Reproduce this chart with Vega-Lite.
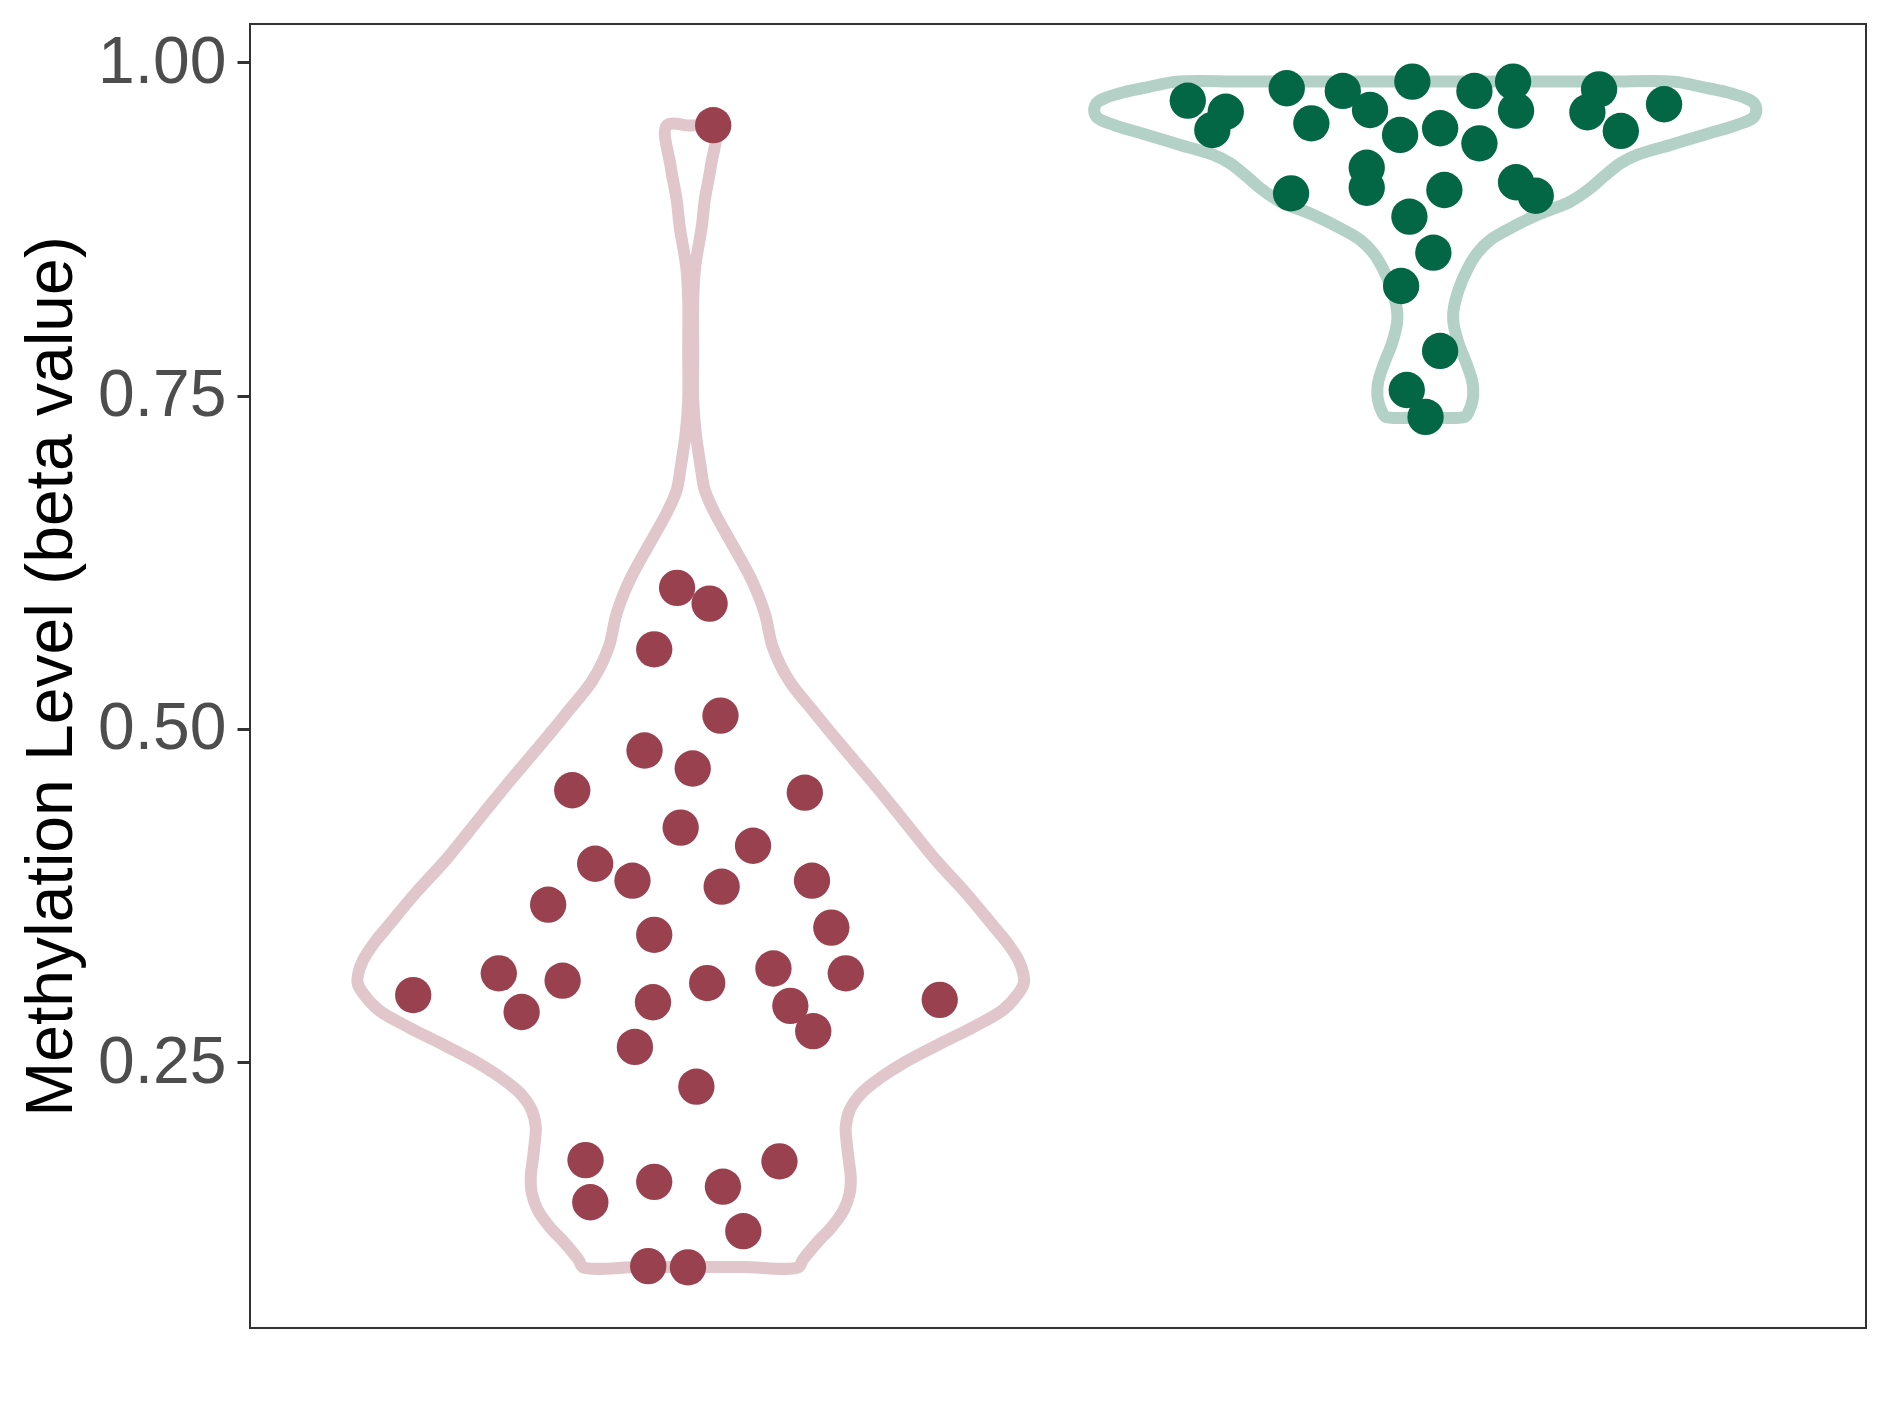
{
  "$schema": "https://vega.github.io/schema/vega-lite/v6.json",
  "width": 1616,
  "height": 1304,
  "autosize": {"type": "none"},
  "padding": {"left": 250, "top": 24, "right": 23, "bottom": 89},
  "background": "white",
  "config": {
    "font": "Liberation Sans",
    "view": {"stroke": "#333333", "strokeWidth": 2}
  },
  "datasets": {
    "violin": [
      {"g":"Red","o":0,"x":1.0,"y":0.0965},{"g":"Red","o":1,"x":0.93,"y":0.0965},{"g":"Red","o":2,"x":0.853,"y":0.0965},{"g":"Red","o":3,"x":0.8475,"y":0.1017},{"g":"Red","o":4,"x":0.8285,"y":0.1145},{"g":"Red","o":5,"x":0.808,"y":0.1265},{"g":"Red","o":6,"x":0.7917,"y":0.1392},{"g":"Red","o":7,"x":0.7835,"y":0.152},{"g":"Red","o":8,"x":0.7822,"y":0.164},{"g":"Red","o":9,"x":0.7849,"y":0.1767},{"g":"Red","o":10,"x":0.7876,"y":0.1895},{"g":"Red","o":11,"x":0.789,"y":0.2015},{"g":"Red","o":12,"x":0.7835,"y":0.2142},{"g":"Red","o":13,"x":0.7672,"y":0.227},{"g":"Red","o":14,"x":0.74,"y":0.239},{"g":"Red","o":15,"x":0.7032,"y":0.2517},{"g":"Red","o":16,"x":0.6583,"y":0.2645},{"g":"Red","o":17,"x":0.615,"y":0.2765},{"g":"Red","o":18,"x":0.575,"y":0.2892},{"g":"Red","o":19,"x":0.5535,"y":0.302},{"g":"Red","o":20,"x":0.5465,"y":0.3095},{"g":"Red","o":21,"x":0.5475,"y":0.317},{"g":"Red","o":22,"x":0.554,"y":0.3267},{"g":"Red","o":23,"x":0.569,"y":0.3395},{"g":"Red","o":24,"x":0.587,"y":0.3515},{"g":"Red","o":25,"x":0.6256,"y":0.377},{"g":"Red","o":26,"x":0.6664,"y":0.4017},{"g":"Red","o":27,"x":0.7182,"y":0.437},{"g":"Red","o":28,"x":0.7549,"y":0.4617},{"g":"Red","o":29,"x":0.7931,"y":0.4865},{"g":"Red","o":30,"x":0.8312,"y":0.512},{"g":"Red","o":31,"x":0.8666,"y":0.5367},{"g":"Red","o":32,"x":0.8884,"y":0.5615},{"g":"Red","o":33,"x":0.8993,"y":0.587},{"g":"Red","o":34,"x":0.917,"y":0.6117},{"g":"Red","o":35,"x":0.9415,"y":0.6365},{"g":"Red","o":36,"x":0.9673,"y":0.662},{"g":"Red","o":37,"x":0.9809,"y":0.6792},{"g":"Red","o":38,"x":0.9864,"y":0.6965},{"g":"Red","o":39,"x":0.9932,"y":0.722},{"g":"Red","o":40,"x":0.9966,"y":0.7467},{"g":"Red","o":41,"x":0.9966,"y":0.7842},{"g":"Red","o":42,"x":0.9966,"y":0.8217},{"g":"Red","o":43,"x":0.9939,"y":0.8465},{"g":"Red","o":44,"x":0.985,"y":0.8765},{"g":"Red","o":45,"x":0.9809,"y":0.8967},{"g":"Red","o":46,"x":0.9728,"y":0.9215},{"g":"Red","o":47,"x":0.9673,"y":0.9525},{"g":"Red","o":48,"x":1.0,"y":0.9525},
      {"g":"Red","o":49,"x":1.0327,"y":0.9525},{"g":"Red","o":50,"x":1.0272,"y":0.9215},{"g":"Red","o":51,"x":1.0191,"y":0.8967},{"g":"Red","o":52,"x":1.015,"y":0.8765},{"g":"Red","o":53,"x":1.0061,"y":0.8465},{"g":"Red","o":54,"x":1.0034,"y":0.8217},{"g":"Red","o":55,"x":1.0034,"y":0.7842},{"g":"Red","o":56,"x":1.0034,"y":0.7467},{"g":"Red","o":57,"x":1.0068,"y":0.722},{"g":"Red","o":58,"x":1.0136,"y":0.6965},{"g":"Red","o":59,"x":1.0191,"y":0.6792},{"g":"Red","o":60,"x":1.0327,"y":0.662},{"g":"Red","o":61,"x":1.0585,"y":0.6365},{"g":"Red","o":62,"x":1.083,"y":0.6117},{"g":"Red","o":63,"x":1.1007,"y":0.587},{"g":"Red","o":64,"x":1.1116,"y":0.5615},{"g":"Red","o":65,"x":1.1334,"y":0.5367},{"g":"Red","o":66,"x":1.1688,"y":0.512},{"g":"Red","o":67,"x":1.2069,"y":0.4865},{"g":"Red","o":68,"x":1.2451,"y":0.4617},{"g":"Red","o":69,"x":1.2818,"y":0.437},{"g":"Red","o":70,"x":1.3336,"y":0.4017},{"g":"Red","o":71,"x":1.3744,"y":0.377},{"g":"Red","o":72,"x":1.413,"y":0.3515},{"g":"Red","o":73,"x":1.431,"y":0.3395},{"g":"Red","o":74,"x":1.446,"y":0.3267},{"g":"Red","o":75,"x":1.4525,"y":0.317},{"g":"Red","o":76,"x":1.4535,"y":0.3095},{"g":"Red","o":77,"x":1.4465,"y":0.302},{"g":"Red","o":78,"x":1.425,"y":0.2892},{"g":"Red","o":79,"x":1.385,"y":0.2765},{"g":"Red","o":80,"x":1.3417,"y":0.2645},{"g":"Red","o":81,"x":1.2968,"y":0.2517},{"g":"Red","o":82,"x":1.26,"y":0.239},{"g":"Red","o":83,"x":1.2328,"y":0.227},{"g":"Red","o":84,"x":1.2165,"y":0.2142},{"g":"Red","o":85,"x":1.211,"y":0.2015},{"g":"Red","o":86,"x":1.2124,"y":0.1895},{"g":"Red","o":87,"x":1.2151,"y":0.1767},{"g":"Red","o":88,"x":1.2178,"y":0.164},{"g":"Red","o":89,"x":1.2165,"y":0.152},{"g":"Red","o":90,"x":1.2083,"y":0.1392},{"g":"Red","o":91,"x":1.192,"y":0.1265},{"g":"Red","o":92,"x":1.1715,"y":0.1145},{"g":"Red","o":93,"x":1.1525,"y":0.1017},{"g":"Red","o":94,"x":1.147,"y":0.0965},{"g":"Red","o":95,"x":1.07,"y":0.0965},{"g":"Red","o":96,"x":1.0,"y":0.0965},
      {"g":"Green","o":0,"x":2.0,"y":0.7342},{"g":"Green","o":1,"x":1.9455,"y":0.7342},{"g":"Green","o":2,"x":1.941,"y":0.7379},{"g":"Green","o":3,"x":1.9356,"y":0.7467},{"g":"Green","o":4,"x":1.9356,"y":0.7592},{"g":"Green","o":5,"x":1.9432,"y":0.773},{"g":"Green","o":6,"x":1.9547,"y":0.7892},{"g":"Green","o":7,"x":1.9615,"y":0.8042},{"g":"Green","o":8,"x":1.9615,"y":0.8142},{"g":"Green","o":9,"x":1.9547,"y":0.8292},{"g":"Green","o":10,"x":1.9432,"y":0.8442},{"g":"Green","o":11,"x":1.9296,"y":0.8567},{"g":"Green","o":12,"x":1.9115,"y":0.8667},{"g":"Green","o":13,"x":1.8843,"y":0.8755},{"g":"Green","o":14,"x":1.8479,"y":0.8855},{"g":"Green","o":15,"x":1.8026,"y":0.8955},{"g":"Green","o":16,"x":1.7754,"y":0.9055},{"g":"Green","o":17,"x":1.7572,"y":0.9142},{"g":"Green","o":18,"x":1.7345,"y":0.9242},{"g":"Green","o":19,"x":1.7118,"y":0.9305},{"g":"Green","o":20,"x":1.6664,"y":0.938},{"g":"Green","o":21,"x":1.6211,"y":0.9455},{"g":"Green","o":22,"x":1.5756,"y":0.953},{"g":"Green","o":23,"x":1.553,"y":0.9587},{"g":"Green","o":24,"x":1.5493,"y":0.9642},{"g":"Green","o":25,"x":1.553,"y":0.9697},{"g":"Green","o":26,"x":1.5666,"y":0.9737},{"g":"Green","o":27,"x":1.5892,"y":0.9775},{"g":"Green","o":28,"x":1.6211,"y":0.9812},{"g":"Green","o":29,"x":1.6619,"y":0.9855},{"g":"Green","o":30,"x":1.75,"y":0.9855},{"g":"Green","o":31,"x":1.85,"y":0.9855},{"g":"Green","o":32,"x":1.95,"y":0.9855},{"g":"Green","o":33,"x":2.05,"y":0.9855},{"g":"Green","o":34,"x":2.15,"y":0.9855},{"g":"Green","o":35,"x":2.25,"y":0.9855},{"g":"Green","o":36,"x":2.3381,"y":0.9855},{"g":"Green","o":37,"x":2.3789,"y":0.9812},{"g":"Green","o":38,"x":2.4108,"y":0.9775},{"g":"Green","o":39,"x":2.4334,"y":0.9737},{"g":"Green","o":40,"x":2.447,"y":0.9697},{"g":"Green","o":41,"x":2.4507,"y":0.9642},{"g":"Green","o":42,"x":2.447,"y":0.9587},{"g":"Green","o":43,"x":2.4244,"y":0.953},{"g":"Green","o":44,"x":2.3789,"y":0.9455},{"g":"Green","o":45,"x":2.3336,"y":0.938},{"g":"Green","o":46,"x":2.2882,"y":0.9305},{"g":"Green","o":47,"x":2.2655,"y":0.9242},{"g":"Green","o":48,"x":2.2428,"y":0.9142},{"g":"Green","o":49,"x":2.2246,"y":0.9055},{"g":"Green","o":50,"x":2.1974,"y":0.8955},{"g":"Green","o":51,"x":2.1521,"y":0.8855},{"g":"Green","o":52,"x":2.1157,"y":0.8755},{"g":"Green","o":53,"x":2.0885,"y":0.8667},{"g":"Green","o":54,"x":2.0704,"y":0.8567},{"g":"Green","o":55,"x":2.0568,"y":0.8442},{"g":"Green","o":56,"x":2.0453,"y":0.8292},{"g":"Green","o":57,"x":2.0385,"y":0.8142},{"g":"Green","o":58,"x":2.0385,"y":0.8042},{"g":"Green","o":59,"x":2.0453,"y":0.7892},{"g":"Green","o":60,"x":2.0568,"y":0.773},{"g":"Green","o":61,"x":2.0644,"y":0.7592},{"g":"Green","o":62,"x":2.0644,"y":0.7467},{"g":"Green","o":63,"x":2.059,"y":0.7379},{"g":"Green","o":64,"x":2.0545,"y":0.7342},{"g":"Green","o":65,"x":2.0,"y":0.7342}
    ],
    "pts": [
      {"g":"Red","x":1.0306,"y":0.9528},{"g":"Red","x":0.9814,"y":0.6058},{"g":"Red","x":1.0257,"y":0.594},{"g":"Red","x":0.9503,"y":0.5597},{"g":"Red","x":1.0405,"y":0.51},{"g":"Red","x":0.9371,"y":0.4838},{"g":"Red","x":1.0027,"y":0.4703},{"g":"Red","x":0.8387,"y":0.454},{"g":"Red","x":1.1553,"y":0.4522},{"g":"Red","x":0.9863,"y":0.426},{"g":"Red","x":1.0848,"y":0.4124},{"g":"Red","x":0.8699,"y":0.3989},{"g":"Red","x":0.9207,"y":0.3862},{"g":"Red","x":1.1651,"y":0.3862},{"g":"Red","x":1.0421,"y":0.3817},{"g":"Red","x":0.8059,"y":0.3682},{"g":"Red","x":1.1914,"y":0.351},{"g":"Red","x":0.9503,"y":0.3456},{"g":"Red","x":0.7387,"y":0.3167},{"g":"Red","x":1.1126,"y":0.3203},{"g":"Red","x":1.2111,"y":0.3167},{"g":"Red","x":0.8256,"y":0.3112},{"g":"Red","x":1.0224,"y":0.3094},{"g":"Red","x":0.6222,"y":0.3004},{"g":"Red","x":1.339,"y":0.2968},{"g":"Red","x":0.9486,"y":0.295},{"g":"Red","x":1.1356,"y":0.2923},{"g":"Red","x":0.7698,"y":0.2877},{"g":"Red","x":1.1668,"y":0.2733},{"g":"Red","x":0.924,"y":0.2615},{"g":"Red","x":1.0077,"y":0.2317},{"g":"Red","x":0.8568,"y":0.1766},{"g":"Red","x":1.1208,"y":0.1757},{"g":"Red","x":0.9503,"y":0.1603},{"g":"Red","x":1.0438,"y":0.1567},{"g":"Red","x":0.8633,"y":0.145},{"g":"Red","x":1.0716,"y":0.1233},{"g":"Red","x":0.9421,"y":0.0971},{"g":"Red","x":0.9962,"y":0.0962},
      {"g":"Green","x":1.6767,"y":0.9712},{"g":"Green","x":1.7284,"y":0.9629},{"g":"Green","x":1.7101,"y":0.9492},{"g":"Green","x":1.8114,"y":0.9805},{"g":"Green","x":1.8449,"y":0.9542},{"g":"Green","x":1.8877,"y":0.9785},{"g":"Green","x":1.9248,"y":0.9642},{"g":"Green","x":1.9824,"y":0.9855},{"g":"Green","x":1.9657,"y":0.9455},{"g":"Green","x":2.0202,"y":0.9505},{"g":"Green","x":1.8173,"y":0.9017},{"g":"Green","x":1.9203,"y":0.9209},{"g":"Green","x":1.9203,"y":0.9059},{"g":"Green","x":2.026,"y":0.9042},{"g":"Green","x":1.9784,"y":0.8842},{"g":"Green","x":2.011,"y":0.8572},{"g":"Green","x":1.9671,"y":0.8322},{"g":"Green","x":2.0202,"y":0.7835},{"g":"Green","x":1.9748,"y":0.7542},{"g":"Green","x":2.0004,"y":0.734},{"g":"Green","x":2.0669,"y":0.9785},{"g":"Green","x":2.1195,"y":0.9855},{"g":"Green","x":2.1236,"y":0.9637},{"g":"Green","x":2.0737,"y":0.9392},{"g":"Green","x":2.2366,"y":0.9797},{"g":"Green","x":2.2207,"y":0.9625},{"g":"Green","x":2.2662,"y":0.9485},{"g":"Green","x":2.3251,"y":0.9685},{"g":"Green","x":2.1236,"y":0.91},{"g":"Green","x":2.1504,"y":0.8999}
    ]
  },
  "encoding": {
    "x": {"field": "x", "type": "quantitative", "scale": {"domain": [0.4, 2.6], "nice": false, "zero": false}, "axis": null},
    "y": {
      "field": "y", "type": "quantitative",
      "scale": {"domain": [0.0507, 1.0287], "nice": false, "zero": false},
      "axis": {
        "values": [0.25, 0.5, 0.75, 1.0], "format": ".2f",
        "title": "Methylation Level (beta value)",
        "grid": false, "domain": false,
        "tickSize": 13, "tickWidth": 3, "tickColor": "#333333",
        "labelFont": "Liberation Sans", "labelFontSize": 66, "labelColor": "#4D4D4D", "labelPadding": 11, "labelOverlap": false, "labelFlush": false,
        "titleFont": "Liberation Sans", "titleFontSize": 66, "titleFontWeight": "normal", "titleColor": "#000000", "titlePadding": 12
      }
    }
  },
  "layer": [
    {
      "data": {"name": "violin"},
      "mark": {"type": "line", "strokeWidth": 12, "strokeJoin": "round", "strokeCap": "round", "interpolate": "catmull-rom"},
      "encoding": {
        "order": {"field": "o", "type": "quantitative"},
        "stroke": {"field": "g", "type": "nominal", "scale": {"domain": ["Red", "Green"], "range": ["#E1C6CB", "#B3D1C7"]}, "legend": null}
      }
    },
    {
      "data": {"name": "pts"},
      "mark": {"type": "circle", "size": 1320, "opacity": 1, "strokeWidth": 0},
      "encoding": {
        "fill": {"field": "g", "type": "nominal", "scale": {"domain": ["Red", "Green"], "range": ["#9A4150", "#036745"]}, "legend": null}
      }
    }
  ]
}
